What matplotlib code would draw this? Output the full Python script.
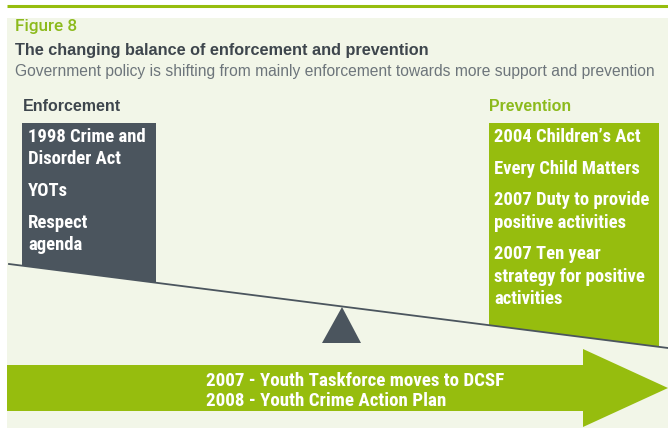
import matplotlib
matplotlib.use("Agg")
import matplotlib.pyplot as plt
from matplotlib import font_manager
from matplotlib.patches import Polygon, Rectangle

# text content of the figure
figure_label = "Figure 8"
title = "The changing balance of enforcement and prevention"
subtitle = "Government policy is shifting from mainly enforcement towards more support and prevention"
left_heading = "Enforcement"
right_heading = "Prevention"
enforcement_items = ["1998 Crime and\nDisorder Act", "YOTs", "Respect\nagenda"]
prevention_items = ["2004 Children\u2019s Act", "Every Child Matters",
                    "2007 Duty to provide\npositive activities",
                    "2007 Ten year\nstrategy for positive\nactivities"]
arrow_lines = ["2007 - Youth Taskforce moves to DCSF", "2008 - Youth Crime Action Plan"]

GREEN = "#96bd0e"
LABEL_GREEN = "#8cba1c"
DARK = "#4b555e"
BG = "#f2f6e8"
TITLE_C = "#3e464d"
SUB_C = "#6d757b"

names = {f.name for f in font_manager.fontManager.ttflist}
def pick(*cands):
    for c in cands:
        if c in names:
            return c
    return "DejaVu Sans"

narrow = pick("Roboto Condensed", "Archivo Narrow", "Roboto")
plain = pick("Liberation Sans", "Arimo")
medium = pick("Roboto", "Liberation Sans")

W, H = 668, 428
fig = plt.figure(figsize=(W / 100, H / 100), dpi=100)
ax = fig.add_axes([0, 0, 1, 1])
ax.set_xlim(0, W)
ax.set_ylim(H, 0)
ax.axis("off")

# background panel and top rule
ax.add_patch(Rectangle((7, 18), W - 7, H - 18, color=BG, lw=0))
ax.plot([7, W], [6, 6], color=GREEN, lw=2.2, solid_capstyle="butt")

# seesaw beam
x0, y0, x1, y1 = 9, 264, 668, 348
def beam(x):
    return y0 + (y1 - y0) * (x - x0) / (x1 - x0)

ax.add_patch(Polygon([(22, 123), (156, 123), (156, beam(156)), (22, beam(22))],
                     closed=True, color=DARK, lw=0))
ax.add_patch(Polygon([(489, 123), (659, 123), (659, beam(659)), (489, beam(489))],
                     closed=True, color=GREEN, lw=0))
ax.plot([x0, x1], [y0, y1], color=DARK, lw=1.3)
ax.add_patch(Polygon([(322, 343), (361, 343), (342, 307)], closed=True, color=DARK, lw=0))

# big arrow
ax.add_patch(Polygon([(7, 365), (583, 365), (583, 349), (668, 388),
                      (583, 427), (583, 411), (7, 411)], closed=True, color=GREEN, lw=0))

fig.canvas.draw()
r = fig.canvas.get_renderer()

def fit(t, width):
    w = t.get_window_extent(r).width
    t.set_fontsize(t.get_fontsize() * width / w)
    return t.get_fontsize()

t = ax.text(15, 31, figure_label, color=LABEL_GREEN, fontsize=12, family=medium, weight=500, va="baseline")
fit(t, 62)
t = ax.text(15, 55, title, color=TITLE_C, fontsize=12, family=plain, weight="bold", va="baseline")
fit(t, 411)
t = ax.text(15, 76, subtitle, color=SUB_C, fontsize=12, family=plain, va="baseline")
fit(t, 642)
t = ax.text(23, 111, left_heading, color=TITLE_C, fontsize=12, family=plain, weight="bold", va="baseline")
fit(t, 98)
t = ax.text(489, 111, right_heading, color=LABEL_GREEN, fontsize=12, family=plain, weight="bold", va="baseline")
fit(t, 82)

# box item size, fitted on one line
probe = ax.text(0, -50, prevention_items[0], fontsize=12, family=narrow, weight=600)
box_size = fit(probe, 147)
probe.remove()

def stack(items, x):
    y = 142
    for item in items:
        for line in item.split("\n"):
            ax.text(x, y, line, color="white", fontsize=box_size, family=narrow,
                    weight=600, va="baseline")
            y += 22.5
        y += 9

stack(enforcement_items, 28)
stack(prevention_items, 494)

probe = ax.text(0, -50, arrow_lines[0], fontsize=12, family=narrow, weight=600)
arrow_size = fit(probe, 300)
probe.remove()
for i, line in enumerate(arrow_lines):
    ax.text(206, 386 + 20 * i, line, color="white", fontsize=arrow_size, family=narrow,
            weight=600, va="baseline")

fig.savefig("out.png", dpi=100, facecolor="white")
